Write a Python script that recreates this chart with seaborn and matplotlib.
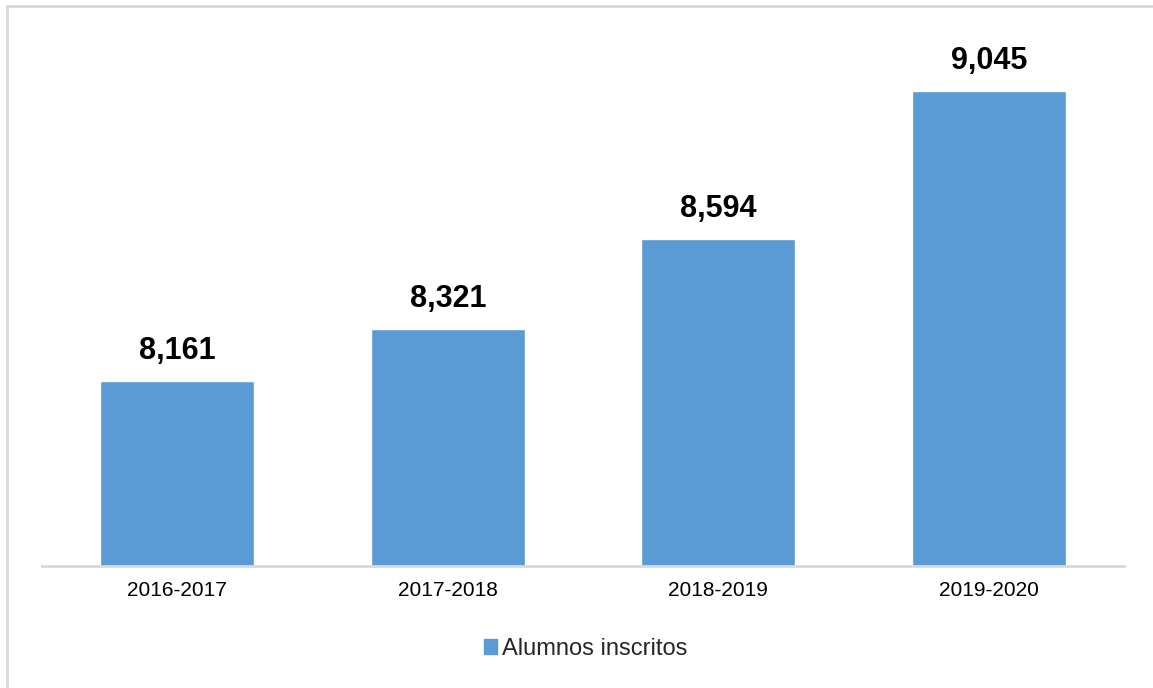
import matplotlib
matplotlib.use("Agg")
import matplotlib.pyplot as plt
from matplotlib.lines import Line2D
from matplotlib.patches import Patch
import seaborn as sns
import pandas as pd

# data
ciclos = ["2016-2017", "2017-2018", "2018-2019", "2019-2020"]
alumnos = [8161, 8321, 8594, 9045]
serie = "Alumnos inscritos"

df = pd.DataFrame({"ciclo": ciclos, "alumnos": alumnos, "serie": serie})

sns.set_theme(style="white")
plt.rcParams["font.family"] = ["Liberation Sans", "DejaVu Sans"]

fig = plt.figure(figsize=(11.53, 6.88), dpi=100)
ax = fig.add_axes([0.0364, 0.1776, 0.9385, 0.7645])

sns.barplot(data=df, x="ciclo", y="alumnos", hue="serie", palette=["#5B9BD5"],
            width=0.57, saturation=1, ax=ax, legend=False)

ax.set_ylim(7600, 9200)
ax.set_xlim(-0.5, 3.5)
ax.set_xlabel("")
ax.set_ylabel("")
ax.set_yticks([])
ax.tick_params(axis="x", length=0, labelsize=15, labelcolor="black", pad=11)
for s in ["left", "right", "top"]:
    ax.spines[s].set_visible(False)
ax.spines["bottom"].set_color("#D9D9D9")
ax.spines["bottom"].set_linewidth(2)

# value labels
for cont in ax.containers:
    ax.bar_label(cont, labels=[f"{v:,}" for v in alumnos], padding=11,
                 fontsize=22, fontweight="bold", color="black")

# legend below
fig.legend(handles=[Patch(color="#5B9BD5", label=serie)], loc="center",
           bbox_to_anchor=(0.508, 0.057), frameon=False, fontsize=17,
           handlelength=0.55, handleheight=0.55, handletextpad=0.2)

# outer frame
fig.add_artist(Line2D([7 / 1153, 7 / 1153], [0, 1 - 6 / 688], color="#D9D9D9", lw=2))
fig.add_artist(Line2D([7 / 1153, 1], [1 - 6 / 688, 1 - 6 / 688], color="#D9D9D9", lw=2))

fig.savefig("out.png", dpi=100)
